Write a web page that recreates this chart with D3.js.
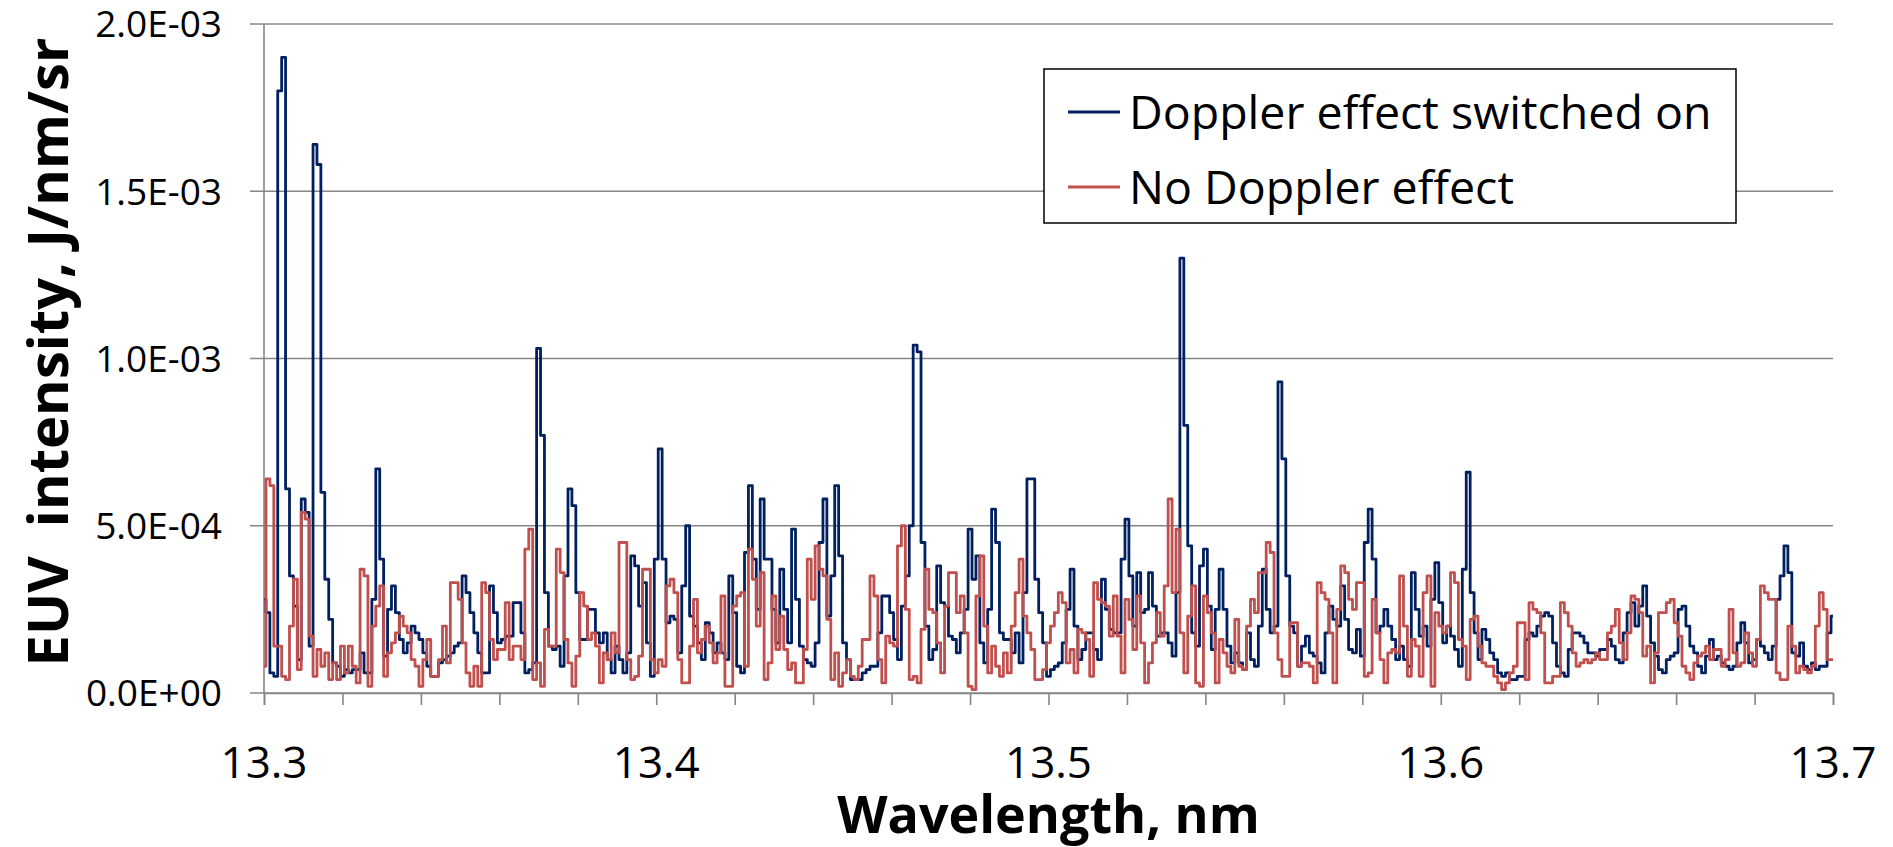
<!DOCTYPE html>
<html>
<head>
<meta charset="utf-8">
<script src="https://cdn.jsdelivr.net/npm/d3@7"></script>
<style>
  html, body { margin: 0; padding: 0; background: #fff; }
  svg { display: block; font-family: "Open Sans", sans-serif; }
</style>
</head>
<body>
<svg id="chart"></svg>
<script>
// wavelength grid of the spectra (nm)
const wlStart = 13.3;
const wlStep = 0.001;

// EUV intensity in units of 1E-04 J/nm/sr, one value per 0.001 nm
const dopplerOn = [
  2.8, 2.4, 0.6, 0.5, 18.0, 19.0, 6.1, 3.5, 2.6, 1.0,
  5.8, 5.4, 1.4, 16.4, 15.8, 6.0, 3.4, 2.2, 0.9, 0.8,
  0.5, 0.7, 0.6, 0.7, 0.7, 1.2, 0.6, 0.6, 2.8, 6.7,
  4.0, 1.1, 2.5, 3.2, 2.4, 1.6, 1.2, 1.5, 2.0, 1.8,
  1.6, 1.2, 0.8, 0.5, 0.5, 0.9, 1.0, 1.1, 1.2, 1.4,
  1.5, 3.5, 3.0, 2.4, 1.8, 1.2, 0.6, 0.6, 3.2, 2.4,
  1.5, 1.6, 1.7, 1.7, 2.7, 2.7, 1.8, 0.6, 0.7, 0.9,
  10.3, 7.7, 3.0, 1.4, 1.3, 1.4, 0.8, 3.5, 6.1, 5.6,
  3.0, 1.6, 1.6, 2.5, 2.5, 1.8, 1.5, 1.8, 1.0, 0.6,
  1.4, 1.0, 0.6, 1.2, 4.1, 3.8, 2.6, 3.3, 1.5, 0.5,
  4.0, 7.3, 4.0, 2.1, 2.3, 2.2, 1.2, 3.2, 5.0, 2.3,
  2.0, 1.5, 1.0, 2.1, 1.8, 1.2, 1.5, 1.2, 1.0, 3.5,
  2.4, 0.8, 0.6, 4.2, 6.2, 4.0, 2.5, 5.8, 4.0, 4.0,
  2.5, 1.5, 3.7, 2.5, 1.5, 4.9, 2.8, 1.4, 1.0, 0.9,
  0.8, 1.5, 4.5, 5.8, 2.3, 3.5, 6.2, 4.1, 1.5, 1.0,
  0.4, 0.4, 0.4, 0.6, 0.7, 0.8, 0.8, 1.8, 2.9, 2.9,
  2.4, 1.6, 1.0, 2.6, 3.5, 5.0, 10.4, 10.2, 4.5, 2.0,
  1.0, 1.3, 3.8, 2.7, 2.6, 1.7, 1.6, 1.2, 1.8, 2.5,
  4.9, 3.4, 4.1, 1.5, 0.9, 2.5, 5.5, 4.5, 1.8, 1.6,
  1.6, 1.2, 1.8, 0.9, 3.0, 6.4, 6.4, 3.4, 2.4, 1.5,
  0.5, 0.7, 0.8, 0.9, 1.5, 2.5, 3.7, 2.0, 1.0, 1.3,
  1.8, 1.8, 1.3, 1.0, 3.4, 2.5, 1.9, 1.8, 1.8, 4.0,
  5.2, 3.5, 2.0, 3.6, 2.4, 2.5, 3.6, 2.6, 1.7, 1.8,
  1.8, 1.5, 1.1, 3.0, 13.0, 8.0, 4.4, 1.8, 1.4, 3.8,
  4.3, 2.6, 1.3, 2.5, 3.7, 2.5, 1.4, 0.9, 1.2, 0.9,
  0.7, 1.8, 1.0, 0.8, 2.0, 3.7, 2.5, 1.8, 2.0, 9.3,
  7.0, 3.5, 2.0, 1.8, 0.8, 1.4, 1.7, 1.2, 1.1, 0.9,
  0.6, 1.8, 2.6, 2.2, 2.0, 3.2, 2.2, 1.3, 1.2, 1.9,
  1.1, 4.5, 5.5, 4.0, 1.8, 2.0, 2.5, 2.0, 1.6, 1.0,
  1.4, 1.0, 0.8, 3.6, 2.5, 1.7, 2.0, 1.4, 2.8, 3.9,
  2.7, 1.5, 2.0, 1.7, 1.3, 0.8, 3.7, 6.6, 3.0, 1.8,
  1.0, 1.9, 1.6, 1.2, 1.0, 0.6, 0.5, 0.6, 0.4, 0.4,
  0.5, 0.5, 1.6, 1.8, 1.7, 2.0, 2.3, 2.4, 2.3, 1.5,
  0.8, 0.6, 0.5, 1.3, 1.8, 1.8, 1.7, 1.5, 1.2, 1.2,
  1.1, 1.3, 1.3, 1.6, 1.4, 1.0, 0.9, 1.8, 2.4, 2.7,
  2.0, 2.6, 3.2, 2.3, 1.5, 1.1, 0.7, 0.6, 1.0, 1.1,
  1.2, 2.5, 2.6, 2.0, 1.4, 1.2, 0.8, 0.6, 1.1, 1.6,
  1.0, 1.1, 0.9, 0.8, 0.7, 0.8, 1.5, 2.1, 1.5, 0.9,
  1.0, 1.6, 1.4, 1.2, 1.0, 1.4, 2.8, 3.5, 4.4, 3.6,
  1.2, 1.1, 1.5, 0.8, 0.7, 0.9, 0.7, 0.8, 0.8, 1.8,
  2.3
];

const noDoppler = [
  0.8, 6.4, 6.2, 1.4, 1.4, 0.5, 0.4, 2.0, 3.4, 0.7,
  5.4, 5.2, 1.7, 0.5, 1.3, 0.8, 1.2, 0.4, 0.9, 0.4,
  1.4, 0.6, 1.4, 0.8, 0.3, 3.7, 3.5, 0.2, 2.0, 2.6,
  3.2, 0.5, 1.2, 1.5, 1.8, 2.3, 2.0, 1.8, 1.0, 0.8,
  0.2, 1.0, 1.6, 0.5, 0.5, 1.0, 2.0, 0.9, 3.3, 3.3,
  2.8, 1.5, 0.6, 0.2, 0.8, 0.2, 3.3, 3.0, 1.6, 1.0,
  1.3, 1.3, 2.7, 1.0, 1.4, 1.4, 1.0, 4.3, 4.9, 0.4,
  0.9, 0.2, 1.9, 1.4, 1.4, 4.3, 3.6, 1.6, 0.9, 0.2,
  1.1, 3.0, 2.6, 1.6, 1.8, 1.4, 0.3, 1.2, 1.0, 1.8,
  1.2, 4.5, 4.5, 1.0, 0.4, 0.5, 1.1, 3.7, 3.7, 1.0,
  0.6, 1.0, 0.8, 3.2, 3.4, 3.0, 1.0, 0.3, 0.3, 1.4,
  2.8, 1.2, 1.6, 2.0, 1.5, 0.9, 1.2, 2.9, 0.2, 0.2,
  2.6, 2.9, 3.0, 0.8, 4.3, 3.4, 2.0, 3.6, 0.4, 0.9,
  2.9, 1.3, 2.3, 1.3, 0.7, 0.9, 0.3, 0.3, 1.3, 4.0,
  2.8, 4.4, 3.7, 3.5, 2.2, 0.4, 1.2, 0.2, 0.6, 1.0,
  0.5, 0.4, 0.8, 1.6, 1.6, 3.5, 2.9, 1.0, 0.3, 1.7,
  1.5, 1.4, 4.4, 5.0, 2.5, 0.4, 0.5, 0.3, 1.9, 3.7,
  2.5, 2.4, 1.5, 0.6, 2.6, 3.6, 3.6, 2.4, 2.9, 1.8,
  0.2, 0.1, 2.9, 4.1, 2.0, 0.6, 1.4, 0.8, 0.5, 1.2,
  0.6, 2.0, 3.0, 4.0, 2.3, 1.8, 1.3, 0.4, 0.4, 0.7,
  1.5, 2.0, 2.4, 3.0, 2.7, 0.9, 1.3, 0.6, 1.9, 1.8,
  1.6, 0.5, 3.3, 2.8, 2.7, 2.6, 1.7, 2.9, 1.7, 0.6,
  2.8, 2.2, 1.3, 2.9, 1.5, 0.3, 0.9, 1.5, 2.4, 1.7,
  3.2, 5.8, 3.0, 4.9, 1.8, 0.6, 2.3, 3.2, 0.3, 0.2,
  2.9, 2.4, 1.8, 0.3, 1.6, 1.2, 0.8, 0.6, 2.2, 0.8,
  0.7, 2.0, 2.8, 2.4, 3.6, 3.6, 4.5, 4.2, 1.8, 1.0,
  0.5, 0.5, 2.1, 2.1, 0.8, 0.9, 0.9, 0.8, 0.3, 3.3,
  3.0, 2.8, 1.8, 0.3, 2.5, 3.8, 3.6, 2.8, 2.5, 3.3,
  3.3, 0.5, 0.6, 2.8, 1.8, 1.0, 0.3, 1.2, 1.3, 1.2,
  3.5, 2.0, 0.5, 1.6, 1.4, 0.5, 3.0, 3.5, 0.2, 2.4,
  2.0, 1.8, 2.0, 3.6, 3.3, 1.6, 1.4, 0.4, 2.2, 2.3,
  1.4, 0.9, 0.8, 0.8, 0.5, 0.3, 0.1, 0.3, 0.6, 0.8,
  2.1, 2.1, 0.4, 2.7, 2.5, 2.4, 1.8, 0.3, 0.3, 0.5,
  0.5, 2.7, 2.4, 2.0, 1.2, 0.8, 0.9, 1.0, 0.9, 1.0,
  1.2, 1.0, 1.0, 1.8, 2.0, 2.5, 1.5, 1.0, 1.8, 2.9,
  2.8, 2.4, 1.1, 1.4, 0.3, 1.2, 2.4, 2.4, 2.7, 2.8,
  2.1, 1.7, 0.8, 0.6, 0.4, 0.9, 1.1, 1.2, 1.4, 1.0,
  1.3, 1.3, 0.8, 1.0, 2.5, 1.2, 0.8, 0.9, 1.8, 1.2,
  0.8, 1.6, 3.2, 3.0, 2.8, 2.8, 0.6, 0.4, 0.4, 2.0,
  1.4, 0.6, 0.8, 0.7, 0.6, 0.8, 2.0, 3.0, 2.5, 1.0,
  1.0
];

const seriesNames = ["Doppler effect switched on", "No Doppler effect"];
const seriesColors = ["#002060", "#C0504D"];

const yTicks = [0, 5e-4, 1e-3, 1.5e-3, 2e-3];
const yTickLabels = ["0.0E+00", "5.0E-04", "1.0E-03", "1.5E-03", "2.0E-03"];
const xTicks = [13.3, 13.4, 13.5, 13.6, 13.7];
const xTickLabels = ["13.3", "13.4", "13.5", "13.6", "13.7"];
const xMinorTicks = [13.3, 13.32, 13.34, 13.36, 13.38, 13.4, 13.42, 13.44, 13.46, 13.48,
  13.5, 13.52, 13.54, 13.56, 13.58, 13.6, 13.62, 13.64, 13.66, 13.68, 13.7];

const width = 1893, height = 847;
const plot = {left: 264, right: 1833, top: 24, bottom: 693};
const gridColor = "#868686";

const svg = d3.select("#chart")
  .attr("width", width)
  .attr("height", height);

svg.append("rect").attr("width", width).attr("height", height).attr("fill", "#fff");

const x = d3.scaleLinear().domain([13.3, 13.7]).range([plot.left, plot.right]);
const y = d3.scaleLinear().domain([0, 2e-3]).range([plot.bottom, plot.top]);

// horizontal gridlines (with the little outward tick on the left)
svg.append("g")
  .selectAll("line")
  .data(yTicks)
  .join("line")
  .attr("x1", plot.left - 14)
  .attr("x2", plot.right)
  .attr("y1", d => y(d))
  .attr("y2", d => y(d))
  .attr("stroke", gridColor)
  .attr("stroke-width", 1.6);

// y axis line
svg.append("line")
  .attr("x1", plot.left).attr("x2", plot.left)
  .attr("y1", y(2e-3)).attr("y2", plot.bottom)
  .attr("stroke", gridColor)
  .attr("stroke-width", 1.6);

// y tick labels
svg.append("g")
  .attr("font-size", 37)
  .attr("text-anchor", "end")
  .selectAll("text")
  .data(yTicks)
  .join("text")
  .attr("x", plot.left - 42)
  .attr("y", d => y(d))
  .attr("dy", "0.36em")
  .attr("fill", "#000")
  .text((d, i) => yTickLabels[i]);

// x axis: minor ticks every 0.02 nm
const xAxis = d3.axisBottom(x)
  .tickValues(xMinorTicks)
  .tickSize(12)
  .tickFormat("");

svg.append("g")
  .attr("transform", `translate(0,${plot.bottom})`)
  .call(xAxis)
  .call(g => g.select(".domain").attr("stroke", gridColor).attr("stroke-width", 1.6))
  .call(g => g.selectAll(".tick line").attr("stroke", gridColor).attr("stroke-width", 1.6));

// x tick labels
svg.append("g")
  .attr("font-size", 44)
  .attr("text-anchor", "middle")
  .selectAll("text")
  .data(xTicks)
  .join("text")
  .attr("x", d => x(d))
  .attr("y", 778)
  .attr("fill", "#000")
  .text((d, i) => xTickLabels[i]);

// axis titles
svg.append("text")
  .attr("x", x(13.5))
  .attr("y", 833)
  .attr("text-anchor", "middle")
  .attr("font-size", 52)
  .attr("font-weight", "bold")
  .text("Wavelength, nm");

svg.append("text")
  .attr("transform", "translate(68,352) rotate(-90)")
  .attr("text-anchor", "middle")
  .attr("font-size", 56)
  .attr("font-weight", "bold")
  .attr("xml:space", "preserve")
  .style("white-space", "pre")
  .text("EUV  intensity, J/nm/sr");

// spectra
const line = d3.line()
  .x((d, i) => x(wlStart + i * wlStep))
  .y(d => y(d * 1e-4))
  .curve(d3.curveStep);

svg.append("g")
  .attr("fill", "none")
  .attr("stroke-width", 2.8)
  .attr("stroke-linejoin", "round")
  .selectAll("path")
  .data([dopplerOn, noDoppler])
  .join("path")
  .attr("stroke", (d, i) => seriesColors[i])
  .attr("d", line);

// legend
const legend = svg.append("g").attr("transform", "translate(1044,69)");

legend.append("rect")
  .attr("width", 692)
  .attr("height", 154)
  .attr("fill", "#fff")
  .attr("stroke", "#000")
  .attr("stroke-width", 1.5);

const item = legend.selectAll("g.item")
  .data(seriesNames)
  .join("g")
  .attr("class", "item")
  .attr("transform", (d, i) => `translate(0,${43 + i * 75})`);

item.append("line")
  .attr("x1", 24).attr("x2", 76)
  .attr("stroke", (d, i) => seriesColors[i])
  .attr("stroke-width", 2.8);

item.append("text")
  .attr("x", 85)
  .attr("dy", "0.36em")
  .attr("font-size", 46.5)
  .attr("fill", "#000")
  .text(d => d);
</script>
</body>
</html>
